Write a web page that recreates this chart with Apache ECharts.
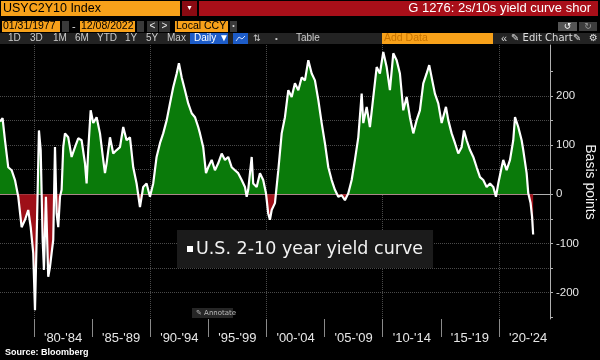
<!DOCTYPE html>
<html><head><meta charset="utf-8">
<script src="https://cdn.jsdelivr.net/npm/echarts@6/dist/echarts.min.js"></script>
<style>html,body{margin:0;padding:0;background:#000}#c{width:600px;height:360px}</style>
</head><body><div id="c"></div><script>
// Decimal years and 2s/10s spread in basis points
const years = [1977.08,1977.30,1977.51,1977.79,1978.08,1978.37,1978.65,1978.94,1979.23,1979.51,1979.72,1979.94,
1980.09,1980.23,1980.43,1980.58,1980.75,1980.86,1981.03,1981.23,1981.38,1981.52,1981.66,1981.81,1981.95,
1982.09,1982.24,1982.38,1982.52,1982.67,1982.95,1983.24,1983.53,1983.81,1984.10,1984.39,1984.53,1984.67,1984.88,
1985.10,1985.39,1985.68,1985.96,1986.11,1986.25,1986.54,1986.82,1987.11,1987.40,1987.68,1987.97,1988.26,1988.54,1988.83,
1989.12,1989.40,1989.69,1989.98,1990.26,1990.55,1990.84,1991.12,1991.42,1991.70,1991.98,1992.28,1992.47,1992.71,1992.99,
1993.27,1993.57,1993.85,1994.13,1994.28,1994.56,1994.80,1994.99,1995.29,1995.57,1995.85,1996.15,1996.43,1996.71,
1997.01,1997.29,1997.57,1997.87,1998.15,1998.30,1998.43,1998.73,1998.86,1999.16,1999.44,1999.72,1999.96,
2000.15,2000.30,2000.45,2000.73,2001.02,2001.31,2001.59,2001.88,2002.17,2002.45,2002.74,2003.03,2003.31,2003.60,2003.89,
2004.17,2004.46,2004.75,2005.03,2005.32,2005.61,2005.89,2006.18,2006.47,2006.75,2007.04,2007.33,2007.61,2007.90,
2008.19,2008.33,2008.62,2008.90,2009.19,2009.48,2009.76,2010.05,2010.34,2010.62,2010.91,2011.20,2011.48,2011.77,
2012.06,2012.34,2012.63,2012.92,2013.20,2013.49,2013.78,2014.00,2014.21,2014.49,2014.78,2015.07,2015.44,2015.64,2015.93,
2016.22,2016.50,2016.79,2016.99,2017.22,2017.51,2017.79,2018.08,2018.37,2018.65,2018.94,2019.23,2019.51,2019.74,2019.94,
2020.23,2020.37,2020.66,2020.95,2021.23,2021.38,2021.66,2021.95,2022.09,2022.38,2022.52,2022.72,2022.85,2022.94];
const spreadBp = [148,155,110,55,49,29,-5,-67,-52,-32,-67,-120,
-236,-93,130,90,-93,-154,-5,-168,-148,-120,-93,96,-39,
-67,-5,9,96,124,116,76,96,114,110,63,22,90,171,
145,157,124,70,43,63,116,83,90,96,137,110,116,55,22,
-26,15,22,-5,22,76,104,124,151,185,218,246,267,238,212,
185,165,157,137,124,96,43,55,70,49,63,83,70,76,
55,49,43,29,15,-5,9,76,22,15,43,29,2,
-39,-52,-32,-18,49,124,157,212,198,226,212,238,232,273,246,
232,192,145,104,55,29,9,-5,-2,-12,2,29,70,116,
205,145,178,137,198,259,246,290,259,212,287,273,246,171,
198,157,124,151,171,226,246,263,238,205,185,145,178,151,124,
104,83,96,130,110,90,76,55,35,29,15,22,15,-5,22,
55,70,49,70,110,157,137,110,90,43,2,-18,-46,-82];
const periodStarts = [1980,1985,1990,1995,2000,2005,2010,2015,2020];
const periodLabels = ["'80-'84","'85-'89","'90-'94","'95-'99","'00-'04","'05-'09","'10-'14","'15-'19","'20-'24"];
const yTickLabels = [-200,-100,0,100,200];
const yTickMarks = [-250,-200,-150,-100,-50,0,50,100,150,200,250];
const seriesName = 'U.S. 2-10 year yield curve';

const data = years.map((y, i) => [y, spreadBp[i]]);
const periodMids = periodStarts.map(s => s + 2.5);

const UI = '"Liberation Sans", Arial, sans-serif';
const ORANGE = '#f7a11a';
const GREEN = '#0a7a0a', RED = '#9e0f18';
function rect(x, y, w, h, fill) { return {type:'rect', shape:{x, y, width:w, height:h}, style:{fill}, silent:true}; }
function txt(x, y, s, fill, size, opts) {
  opts = opts || {};
  return {type:'text', x, y, silent:true, style:{text:s, fill, font:(opts.bold?'bold ':'') + size + 'px ' + (opts.family||UI), verticalAlign:'middle', align:opts.align||'left'}};
}

const graphics = [
  rect(1,1,179,15,ORANGE), txt(3,8.5,'USYC2Y10 Index','#000',12.5),
  rect(182,1,15,15,'#8a0a12'), txt(189.5,8.5,'▼','#fff',7,{align:'center'}),
  rect(199,1,399,15,'#a80f19'), txt(591,8.5,'G 1276: 2s/10s yield curve shor','#fff',13,{align:'right'}),
  rect(2,21,58,11,ORANGE), txt(3,26.5,'01/31/1977','#000',10.5),
  rect(62,21,7,11,'#3a3a3a'),
  txt(72,26.5,'-','#ddd',11),
  rect(80,21,55,11,ORANGE), txt(81,26.5,'12/08/2022','#000',10.5),
  rect(137,21,7,11,'#3a3a3a'),
  rect(147,21,11,11,'#333'), txt(152.5,26.5,'<','#eee',10,{align:'center'}),
  rect(159,21,11,11,'#333'), txt(164.5,26.5,'>','#eee',10,{align:'center'}),
  rect(175,21,53,11,ORANGE), txt(176,26.5,'Local CCY','#000',10.5),
  rect(230,21,7,11,'#3a3a3a'), txt(233.5,26.5,'•','#ddd',7,{align:'center'}),
  rect(558,22,19,9,'#555'), txt(567.5,26.5,'↺','#fff',9,{align:'center', family:'"DejaVu Sans"'}),
  rect(579,22,18,9,'#3d3d3d'), txt(588,26.5,'↻','#999',9,{align:'center', family:'"DejaVu Sans"'}),
  rect(0,33,600,11,'#232323'),
  txt(8,38.5,'1D','#ccc',10), txt(30,38.5,'3D','#ccc',10), txt(53,38.5,'1M','#ccc',10), txt(75,38.5,'6M','#ccc',10),
  txt(97,38.5,'YTD','#ccc',10), txt(125,38.5,'1Y','#ccc',10), txt(146,38.5,'5Y','#ccc',10), txt(167,38.5,'Max','#ccc',10),
  rect(190,33,38,11,'#1d5cc8'), txt(194,38.5,'Daily ▼','#fff',10),
  rect(233,33,15,11,'#1d5cc8'),
  {type:'polyline', silent:true, shape:{points:[[236,41],[239,37],[242,39],[245,36]]}, style:{stroke:'#cfe0ff', lineWidth:1, fill:null}},
  txt(253,38.5,'⇅','#ccc',9,{family:'"DejaVu Sans"'}),
  txt(275,38.5,'•','#ccc',8),
  txt(296,38.5,'Table','#ccc',10),
  rect(382,33,111,11,ORANGE), txt(384,38.5,'Add Data','#c97400',10.5),
  txt(501,38.5,'«','#ddd',11), txt(511,38.5,'✎ Edit Chart','#ddd',10,{family:'"DejaVu Sans"'}),
  txt(573,38.5,'✎','#ddd',10,{family:'"DejaVu Sans"'}), txt(589,38.5,'⚙','#ddd',10,{family:'"DejaVu Sans"'}),
  rect(192,308,41,10,'#262626'), txt(196,313,'✎ Annotate','#bbb',7,{family:'"DejaVu Sans"'}),
  txt(5,353,'Source: Bloomberg','#fff',9,{bold:true})
];

const chart = echarts.init(document.getElementById('c'), null, {renderer:'canvas'});
chart.setOption({
  backgroundColor:'#000',
  animation:false,
  grid:{left:0, right:50, top:45, bottom:41, containLabel:false, outerBoundsMode:'none'},
  xAxis:[
    {type:'value', min:1977.08, max:2024.39, splitNumber:5, position:'bottom',
     axisLine:{show:true, lineStyle:{color:'#b0b0b0', width:1}},
     axisTick:{show:false}, axisLabel:{show:false},
     splitLine:{show:true, showMinLine:false, showMaxLine:false, lineStyle:{color:'#4a4a4a', type:'dotted', width:1}}},
    {type:'value', min:1977.08, max:2024.39, position:'bottom',
     axisLine:{show:false},
     axisTick:{show:true, customValues:periodStarts, length:18, lineStyle:{color:'#8a8a8a'}},
     axisLabel:{show:true, customValues:periodMids, margin:13, color:'#e6e6e6', fontSize:13, fontFamily:UI,
       formatter:(v) => periodLabels[Math.round((v - 2.5 - periodStarts[0]) / 5)]},
     splitLine:{show:false}}
  ],
  yAxis:{type:'value', position:'right', min:-254, max:304, splitNumber:5,
    axisLine:{show:true, lineStyle:{color:'#b0b0b0', width:1}},
    axisTick:{show:true, customValues:yTickMarks, length:3, lineStyle:{color:'#b0b0b0'}},
    axisLabel:{show:true, customValues:yTickLabels, margin:6, color:'#e6e6e6', fontSize:11.5, fontFamily:UI},
    splitLine:{show:true, showMinLine:false, showMaxLine:false, lineStyle:{color:'#4a4a4a', type:'dotted', width:1}},
    name:'Basis points', nameLocation:'middle', nameRotate:-90, nameGap:33, nameMoveOverlap:false,
    nameTextStyle:{color:'#f0f0f0', fontSize:14, fontFamily:UI}},
  legend:{left:177, top:230, data:[{name:seriesName, icon:'rect', itemStyle:{color:'#fff'}}],
    itemWidth:6, itemHeight:6, backgroundColor:'#1b1b1b', padding:[10,10,10,10], selectedMode:false,
    textStyle:{color:'#f2f2f2', fontSize:17.5, fontFamily:'"DejaVu Sans", sans-serif', padding:[0,0,0,-2]}},
  series:[
    {name:seriesName, type:'line', data, symbol:'none', z:3, xAxisIndex:0,
     lineStyle:{color:'#ffffff', width:2.2}, itemStyle:{color:'#ffffff'}},
    {name:'fill', type:'line', data, symbol:'none', z:2, xAxisIndex:0, silent:true,
     lineStyle:{width:0, opacity:0}, itemStyle:{color:GREEN}, areaStyle:{opacity:1, color:GREEN}}
  ],
  graphic:graphics
});
// split the fill colour at the zero line of the value axis
const zeroY = chart.convertToPixel({yAxisIndex:0}, 0);
const h = chart.getHeight();
const f = zeroY / h;
chart.setOption({series:[{}, {areaStyle:{opacity:1, color:{type:'linear', x:0, y:0, x2:0, y2:h, global:true,
  colorStops:[{offset:0, color:GREEN},{offset:f, color:GREEN},{offset:f, color:RED},{offset:1, color:RED}]}}}]});
</script></body></html>
